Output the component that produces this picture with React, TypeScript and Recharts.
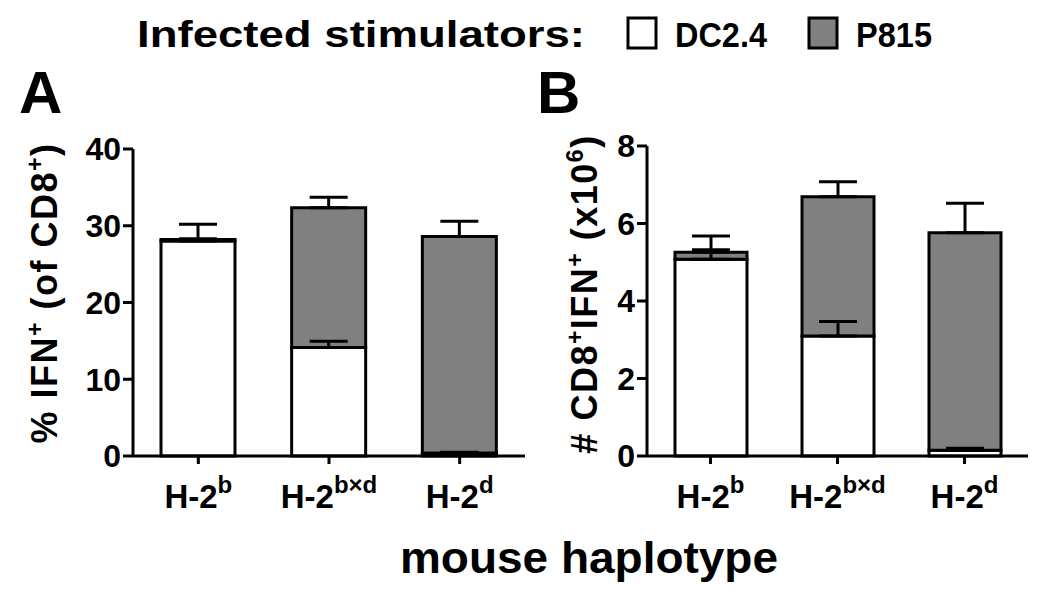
import React from 'react'
import { BarChart, Bar, XAxis, YAxis, ErrorBar } from 'recharts'

// mouse haplotype superscripts (H-2 ...)
const haplotypes = ['b', 'b×d', 'd']

// series names
const seriesNames = ['DC2.4', 'P815']

// panel A: % IFN+ of CD8+
const pctDC = [28.0, 14.15, 0.4]
const pctDCErr = [0.3, 0.8, 0.1]
const pctP815 = [0.2, 18.2, 28.2]
const pctP815Err = [2.0, 1.35, 2.0]
const pctTicks = [0, 10, 20, 30, 40]

// panel B: # CD8+IFN+ (x10^6)
const numDC = [5.08, 3.1, 0.15]
const numDCErr = [0.24, 0.37, 0.05]
const numP815 = [0.18, 3.59, 5.61]
const numP815Err = [0.42, 0.39, 0.76]
const numTicks = [0, 2, 4, 6, 8]

const FONT = '"Liberation Sans", Arial, sans-serif'
const GRAY = '#808080'

const pctData = haplotypes.map((h, i) => ({
  name: h,
  dc: pctDC[i],
  dcErr: [0, pctDCErr[i]],
  p815: pctP815[i],
  p815Err: [0, pctP815Err[i]],
}))

const numData = haplotypes.map((h, i) => ({
  name: h,
  dc: numDC[i],
  dcErr: [0, numDCErr[i]],
  p815: numP815[i],
  p815Err: [0, numP815Err[i]],
}))

const HapTick = (props: any) => {
  const { x, y, payload } = props
  return (
    <text
      x={x}
      y={y + 42}
      textAnchor="middle"
      fontFamily={FONT}
      fontWeight="bold"
      fontSize={33}
      fill="#000"
    >
      H-2
      <tspan dy={-15} fontSize={24}>{payload.value}</tspan>
    </text>
  )
}

const axisStyle = { stroke: '#000', strokeWidth: 3 }
const tickFont = { fill: '#000', fontSize: 32, fontWeight: 'bold', fontFamily: FONT }

function Panel({ data, ticks, top, left, right, barSize }: any) {
  return (
    <BarChart
      width={530}
      height={596}
      data={data}
      margin={{ top, right, bottom: 80, left }}
      barCategoryGap={0}
    >
      <XAxis
        dataKey="name"
        height={60}
        axisLine={axisStyle}
        tickLine={axisStyle}
        tickSize={8}
        tick={<HapTick />}
        interval={0}
      />
      <YAxis
        width={60}
        domain={[ticks[0], ticks[ticks.length - 1]]}
        ticks={ticks}
        axisLine={axisStyle}
        tickLine={axisStyle}
        tickSize={10}
        tick={tickFont}
        interval={0}
      />
      <Bar
        dataKey="dc"
        name={seriesNames[0]}
        stackId="s"
        fill="#fff"
        stroke="#000"
        strokeWidth={3}
        barSize={barSize}
        isAnimationActive={false}
      >
        <ErrorBar dataKey="dcErr" direction="y" width={19} stroke="#000" strokeWidth={3} />
      </Bar>
      <Bar
        dataKey="p815"
        name={seriesNames[1]}
        stackId="s"
        fill={GRAY}
        stroke="#000"
        strokeWidth={3}
        barSize={barSize}
        isAnimationActive={false}
      >
        <ErrorBar dataKey="p815Err" direction="y" width={19} stroke="#000" strokeWidth={3} />
      </Bar>
    </BarChart>
  )
}

export default function App() {
  const txt = { fontFamily: FONT, fontWeight: 'bold' as const, fill: '#000' }
  return (
    <div style={{ position: 'absolute', left: 0, top: 0, width: 1050, height: 596, background: '#fff' }}>
      <div style={{ position: 'absolute', left: 0, top: 0 }}>
        <Panel data={pctData} ticks={pctTicks} top={149} left={73} right={5} barSize={74} />
      </div>
      <div style={{ position: 'absolute', left: 520, top: 0 }}>
        <Panel data={numData} ticks={numTicks} top={146} left={67} right={22} barSize={72} />
      </div>
      <svg
        width={1050}
        height={596}
        style={{ position: 'absolute', left: 0, top: 0, pointerEvents: 'none' }}
      >
        {/* header legend */}
        <text x={137} y={47} fontSize={36} textLength={448} lengthAdjust="spacingAndGlyphs" {...txt}>
          Infected stimulators:
        </text>
        <rect x={628} y={18} width={28} height={30} fill="#fff" stroke="#000" strokeWidth={3} />
        <text x={675} y={47} fontSize={35} textLength={92} lengthAdjust="spacingAndGlyphs" {...txt}>
          {seriesNames[0]}
        </text>
        <rect x={809} y={18} width={28} height={30} fill={GRAY} stroke="#000" strokeWidth={3} />
        <text x={856} y={47} fontSize={35} textLength={76} lengthAdjust="spacingAndGlyphs" {...txt}>
          {seriesNames[1]}
        </text>

        {/* panel letters */}
        <text x={19} y={113} fontSize={60} {...txt}>A</text>
        <text x={537} y={113} fontSize={60} {...txt}>B</text>

        {/* y axis titles */}
        <text transform="translate(57, 293) rotate(-90)" textAnchor="middle" fontSize={36} letterSpacing={1.5} {...txt}>
          % IFN<tspan dy={-14} fontSize={23}>+</tspan>
          <tspan dy={14}> (of CD8</tspan>
          <tspan dy={-14} fontSize={23}>+</tspan>
          <tspan dy={14}>)</tspan>
        </text>
        <text transform="translate(597, 294) rotate(-90)" textAnchor="middle" fontSize={36} letterSpacing={1.5} {...txt}>
          # CD8<tspan dy={-14} fontSize={23}>+</tspan>
          <tspan dy={14}>IFN</tspan>
          <tspan dy={-14} fontSize={23}>+</tspan>
          <tspan dy={14}> (x10</tspan>
          <tspan dy={-14} fontSize={23}>6</tspan>
          <tspan dy={14}>)</tspan>
        </text>

        {/* x axis title */}
        <text x={400} y={573} fontSize={44} textLength={378} lengthAdjust="spacingAndGlyphs" {...txt}>
          mouse haplotype
        </text>
      </svg>
    </div>
  )
}
